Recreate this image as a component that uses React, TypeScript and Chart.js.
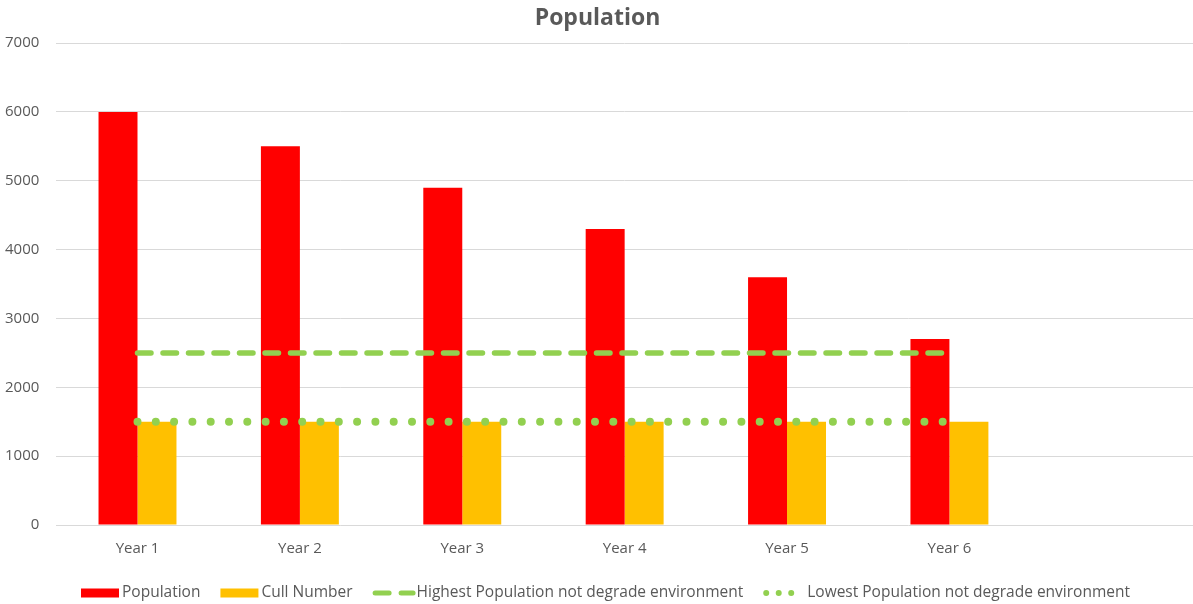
import React, { useEffect, useRef } from "react";
import { Chart, registerables } from "chart.js";

Chart.register(...registerables);

// ---- data ----
const categories = ["Year 1", "Year 2", "Year 3", "Year 4", "Year 5", "Year 6", ""];
const population = [6000, 5500, 4900, 4300, 3600, 2700];
const cullNumber = [1500, 1500, 1500, 1500, 1500, 1500];
const highestLimit = [2500, 2500, 2500, 2500, 2500, 2500];
const lowestLimit = [1500, 1500, 1500, 1500, 1500, 1500];
const seriesNames = [
  "Population",
  "Cull Number",
  "Highest Population not degrade environment",
  "Lowest Population not degrade environment",
];
const chartTitle = "Population";
const yMin = 0;
const yMax = 7000;
const yStep = 1000;

// ---- styles ----
const RED = "#FF0000";
const ORANGE = "#FFC000";
const GREEN = "#92D050";
const TEXT = "#595959";
const GRID = "#D9D9D9";
const FONT = "'Open Sans', sans-serif";

const legendPlugin = {
  id: "customLegend",
  afterDraw(chart: any) {
    const ctx: CanvasRenderingContext2D = chart.ctx;
    ctx.save();
    ctx.font = `15.5px ${FONT}`;
    ctx.textBaseline = "middle";
    const items = [
      { kind: "box", color: RED, text: seriesNames[0], w: 38, gap: 3 },
      { kind: "box", color: ORANGE, text: seriesNames[1], w: 38, gap: 3 },
      { kind: "dash", color: GREEN, text: seriesNames[2], w: 43, gap: 1 },
      { kind: "dot", color: GREEN, text: seriesNames[3], w: 32, gap: 12 },
    ];
    const itemGap = 20;
    const textW = items.map((it) => ctx.measureText(it.text).width);
    let total = 0;
    items.forEach((it, i) => {
      total += it.w + it.gap + textW[i];
    });
    total += itemGap * (items.length - 1);
    let x = chart.width / 2 + 9 - total / 2;
    const y = chart.height - 11;
    items.forEach((it, i) => {
      if (it.kind === "box") {
        ctx.fillStyle = it.color;
        ctx.fillRect(x, y - 4.5, it.w, 9);
      } else if (it.kind === "dash") {
        ctx.strokeStyle = it.color;
        ctx.lineWidth = 5;
        ctx.lineCap = "round";
        ctx.setLineDash([14, 12]);
        ctx.beginPath();
        ctx.moveTo(x + 2.5, y);
        ctx.lineTo(x + it.w - 2.5, y);
        ctx.stroke();
      } else {
        ctx.strokeStyle = it.color;
        ctx.lineWidth = 6;
        ctx.lineCap = "round";
        ctx.setLineDash([0, 12.5]);
        ctx.beginPath();
        ctx.moveTo(x + 3, y);
        ctx.lineTo(x + it.w - 3, y);
        ctx.stroke();
      }
      ctx.setLineDash([]);
      x += it.w + it.gap;
      ctx.fillStyle = TEXT;
      ctx.textAlign = "left";
      ctx.fillText(it.text, x, y);
      x += textW[i] + itemGap;
    });
    ctx.restore();
  },
};

export default function App() {
  const canvasRef = useRef<HTMLCanvasElement | null>(null);

  useEffect(() => {
    if (!canvasRef.current) return;
    const chart = new Chart(canvasRef.current, {
      type: "bar",
      data: {
        labels: categories,
        datasets: [
          {
            type: "bar",
            label: seriesNames[0],
            data: population,
            backgroundColor: RED,
            borderWidth: 0,
            order: 1,
          },
          {
            type: "bar",
            label: seriesNames[1],
            data: cullNumber,
            backgroundColor: ORANGE,
            borderWidth: 0,
            order: 1,
          },
          {
            type: "line",
            label: seriesNames[2],
            data: highestLimit,
            borderColor: GREEN,
            backgroundColor: GREEN,
            borderWidth: 5.5,
            borderDash: [13.5, 12],
            borderCapStyle: "round",
            pointRadius: 0,
            fill: false,
            order: 0,
          },
          {
            type: "line",
            label: seriesNames[3],
            data: lowestLimit,
            borderColor: GREEN,
            backgroundColor: GREEN,
            borderWidth: 8,
            borderDash: [0, 18.3],
            borderCapStyle: "round",
            pointRadius: 0,
            fill: false,
            order: 0,
          },
        ] as any,
      },
      options: {
        responsive: false,
        animation: false,
        layout: { padding: { left: 2, right: 0, top: 0, bottom: 31 } },
        datasets: {
          bar: { categoryPercentage: 0.48, barPercentage: 1 },
        } as any,
        scales: {
          x: {
            grid: { display: false, drawTicks: false },
            border: { display: false },
            ticks: {
              color: TEXT,
              font: { family: FONT, size: 15 },
              padding: 15,
              maxRotation: 0,
              autoSkip: false,
            },
          },
          y: {
            min: yMin,
            max: yMax,
            grid: {
              color: GRID,
              lineWidth: 1,
              drawTicks: true,
              tickLength: 14,
              tickColor: "rgba(0,0,0,0)",
            },
            border: { display: false },
            ticks: {
              stepSize: yStep,
              color: TEXT,
              font: { family: FONT, size: 15 },
              padding: 3,
              callback: (v: any) => String(v),
            },
          },
        },
        plugins: {
          legend: { display: false },
          tooltip: { enabled: false },
          title: {
            display: true,
            text: chartTitle,
            color: TEXT,
            font: { family: FONT, size: 23, weight: "bold" },
            padding: { top: 5, bottom: 10.5 },
          },
        },
      },
      plugins: [legendPlugin],
    });
    return () => chart.destroy();
  }, []);

  return (
    <div style={{ position: "fixed", left: 0, top: 0, width: 1193, height: 604, background: "#fff" }}>
      <canvas ref={canvasRef} width={1193} height={604} style={{ display: "block" }} />
    </div>
  );
}
